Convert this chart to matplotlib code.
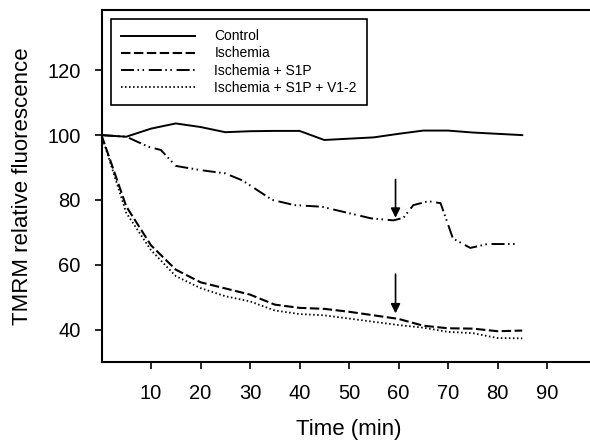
import matplotlib
matplotlib.use("Agg")
import matplotlib.pyplot as plt

plt.rcParams['font.family'] = ['Liberation Sans', 'DejaVu Sans']
plt.rcParams['lines.scale_dashes'] = False

# Data
time = [0, 5, 10, 15, 20, 25, 30, 35, 40, 45, 50, 55, 60, 65, 70, 75, 80, 85]
control = [100, 99.5, 102, 103.6, 102.5, 100.9, 101.2, 101.3, 101.3, 98.5,
           98.9, 99.3, 100.4, 101.4, 101.4, 100.8, 100.4, 100.0]
ischemia = [100, 78, 66, 58.5, 54.6, 52.7, 50.8, 47.7, 46.7, 46.4, 45.5,
            44.4, 43.3, 41.2, 40.4, 40.3, 39.5, 39.7]
isch_s1p_v12 = [100, 76, 64.5, 56.5, 52.8, 50.3, 48.7, 45.9, 44.8, 44.4, 43.4,
                42.4, 41.4, 40.6, 39.3, 38.9, 37.4, 37.3]
time_s1p = [0, 5, 9.5, 12, 15, 20, 25, 28.5, 34.5, 39, 44.5, 54.5, 59, 61, 63,
            66, 68.5, 71, 74.5, 78, 84]
isch_s1p = [100, 99.5, 96.4, 95.4, 90.5, 89.2, 88.2, 86, 80, 78.4, 77.9,
            74.3, 73.7, 74.5, 78.4, 79.6, 79.0, 68.1, 65.2, 66.4, 66.4]

arrow_x = 59.4
arrow1 = (86.3, 74.5)
arrow2 = (57.1, 45.0)

xticks = [10, 20, 30, 40, 50, 60, 70, 80, 90]
yticks = [40, 60, 80, 100, 120]

fig = plt.figure(figsize=(5.9, 4.41), dpi=100)
ax = fig.add_axes([101.5 / 590, 1 - 362 / 441, 495 / 590, 352 / 441])

ax.plot(time, control, color='black', lw=1.4, label='Control')
ax.plot(time, ischemia, color='black', lw=1.5, dashes=(6.8, 2.5), label='Ischemia')
ax.plot(time_s1p, isch_s1p, color='black', lw=1.4,
        dashes=(9.4, 2.5, 1.1, 2.5, 1.1, 3.4), label='Ischemia + S1P')
ax.plot(time, isch_s1p_v12, color='black', lw=1.3, dashes=(1.1, 1.8),
        label='Ischemia + S1P + V1-2')

for (y0, y1) in (arrow1, arrow2):
    ax.annotate('', xy=(arrow_x, y1), xytext=(arrow_x, y0),
                arrowprops=dict(arrowstyle='-|>', color='black', lw=1.2,
                                mutation_scale=14, shrinkA=0, shrinkB=0))

ax.set_xlim(0, 100)
ax.set_ylim(30, 138.6)
ax.set_xticks(xticks)
ax.set_yticks(yticks)
ax.tick_params(axis='both', direction='out', length=5, width=1.2, labelsize=14.5,
               colors='black')
ax.tick_params(axis='x', pad=11)
ax.tick_params(axis='y', pad=10)
for s in ax.spines.values():
    s.set_linewidth(1.5)
ax.spines['right'].set_visible(False)

ax.set_xlabel('Time (min)', fontsize=16, labelpad=11)
ax.set_ylabel('TMRM relative fluorescence', fontsize=16, labelpad=10)

leg = ax.legend(loc='upper left', bbox_to_anchor=(9.5 / 495, 343 / 352),
                borderaxespad=0, fontsize=10, handlelength=5.3,
                handletextpad=1.4, labelspacing=0.22, fancybox=False,
                edgecolor='black', framealpha=1, borderpad=0.75)
leg.get_frame().set_linewidth(1.2)

fig.savefig('out.png', dpi=100)
